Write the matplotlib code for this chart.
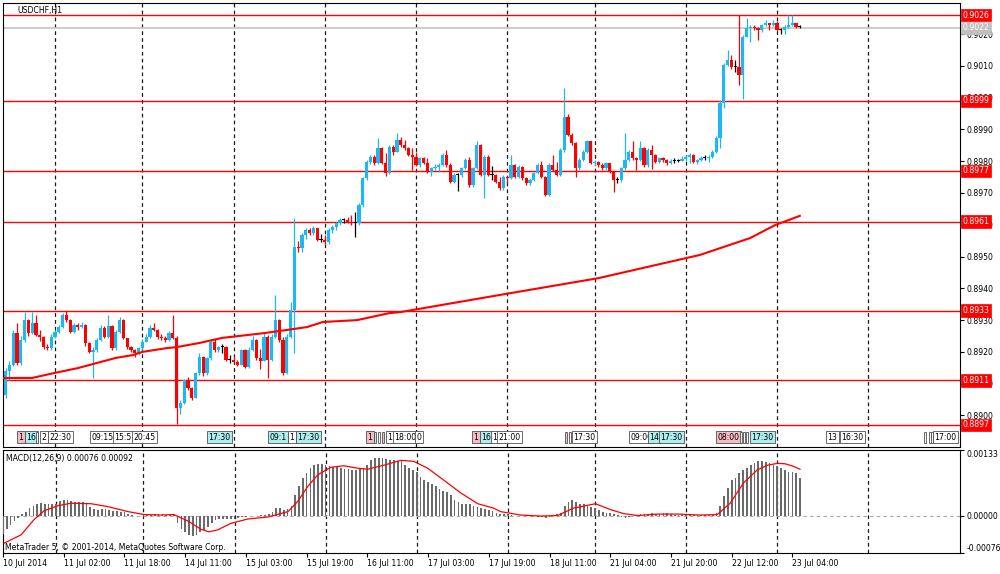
import numpy as np
import matplotlib
matplotlib.use("agg")
import matplotlib.pyplot as plt
from matplotlib.patches import Rectangle

# prices are kept in pips above BASE
BASE = 0.8900
PIP = 0.0001

symbol = 'USDCHF,H1'
first_open = 10.0
closes = [6.5, 14, 16, 26, 16.5, 23.7, 30, 25.8, 29, 25.3,
          24.8, 21.6, 21.1, 24.8, 26.4, 27.9, 31.6, 30, 26.4, 28.4,
          27.9, 28.4, 22.7, 20.1, 20.6, 23.7, 27.4, 24.8, 28, 21.1,
          26.4, 30, 24.3, 21.6, 20.6, 19.5, 21.1, 23.2, 24.8, 27.4,
          26.9, 24.8, 24.3, 23.7, 25.8, 24.3, 2.2, 3.8, 11, 8.5,
          5.4, 13.2, 18.5, 13.2, 18, 23.2, 20.6, 21.6, 21.6, 17.5,
          17.5, 16.8, 16, 20.6, 15.4, 20.6, 23.7, 18, 17.2, 24.8,
          17.5, 24.8, 30, 23.7, 13.2, 24.8, 33.2, 53.1, 52.6, 56.8,
          58.4, 57.3, 58.9, 55.2, 55.2, 54.5, 58.4, 59.4, 60.4, 61.5,
          61.5, 61, 60.5, 60.5, 66.2, 74.6, 79.9, 81.4, 79.3, 84,
          79.3, 76.2, 84.6, 83, 86.7, 85.1, 84, 81.9, 81.2, 78.8,
          80.9, 79.3, 76.7, 77.8, 78.3, 78.8, 81.9, 78.8, 73.6, 75.7,
          75.7, 77.8, 80.4, 72.5, 77.8, 85.1, 75.7, 81.4, 75.7, 75.7,
          73.5, 71.5, 75.1, 74.6, 78.8, 75.1, 78.3, 74.6, 73, 74.1,
          76.2, 78.8, 75.1, 69.4, 78.8, 77.2, 75.7, 83.5, 94, 88.2,
          85.6, 77.8, 80.4, 83, 86.2, 79.3, 79.8, 78.8, 77.8, 79.3,
          76.7, 74.1, 74.1, 77.8, 80.4, 83, 80.9, 80.4, 84, 78.8,
          83.5, 81.9, 79.8, 80.9, 80.4, 79.3, 80.2, 80.2, 80.2, 80.6,
          81.4, 82, 79.8, 80.3, 81, 81, 81.4, 83, 87.2, 98.2,
          110.3, 111.9, 109.7, 109.7, 107.1, 119.2, 121.8, 122.2, 121.8, 121.3,
          122.9, 123.4, 122.9, 123.4, 121.3, 121.3, 122.3, 122.9, 123.4, 122.2,
          122.2]
highs = [12, 15, 17, 27, 29, 25, 32.6, 30.5, 32.6, 31.5,
         27, 25, 22.5, 25.5, 27, 28.5, 32.1, 33, 30.5, 29,
         29, 29.5, 28.8, 23, 21.5, 24.5, 28.5, 28, 31.6, 28.5,
         27, 31, 30.5, 24.5, 22, 21, 21.5, 24, 25.5, 28.5,
         29, 27.2, 25.5, 25, 26.5, 31.6, 25, 5, 11.6, 12,
         8.8, 13.8, 19.5, 18.8, 18.5, 24, 24.2, 22, 22.5, 21.8,
         19, 18.8, 17.5, 21, 21, 21.5, 25, 24, 20.8, 26,
         25.2, 25.5, 38, 30.5, 24.8, 25.5, 35.8, 62.1, 54.8, 57.5,
         59, 59, 59.5, 59, 57, 56.8, 59, 60, 61, 62,
         62.2, 62.5, 63, 64, 66.8, 75, 80.5, 82, 82, 87.2,
         84.5, 82.5, 85, 85, 88.8, 87.7, 86.7, 84.6, 84, 83,
         81.4, 81.4, 80.9, 78.3, 79, 79.3, 82.5, 83.5, 79.3, 76.2,
         76.2, 78.3, 81, 81.4, 78.3, 86.2, 85.5, 82, 81.8, 78.5,
         76, 75.1, 75.6, 75.5, 81.9, 79.2, 78.8, 78.5, 75, 74.6,
         76.7, 79.3, 80, 75.5, 79.3, 81.9, 79.8, 84, 103, 95,
         89, 86, 81, 83.5, 86.8, 86.5, 80.3, 80.2, 79.3, 79.8,
         79.5, 77, 75, 78.3, 88.8, 83.5, 86.2, 81.4, 86.2, 84.5,
         84, 85.1, 82.3, 81.4, 81.4, 80.8, 80.7, 81, 80.8, 81.5,
         81.9, 82.5, 82.3, 80.8, 81.6, 81.8, 81.9, 83.5, 87.8, 99.3,
         110.8, 115, 113.4, 112, 126, 119.7, 125, 122.8, 123, 122.3,
         123.3, 124.4, 123.6, 124.4, 124, 122, 122.8, 126, 126, 123.6,
         122.8]
lows = [5, 5.5, 11, 15.5, 16, 16, 23, 25, 25.5, 25,
        23.5, 21, 20.5, 20.5, 24.5, 26, 27.5, 29.5, 26, 26,
        27, 27.5, 22, 19.5, 11.7, 20, 23.5, 24.3, 24.5, 20.5,
        20.5, 26, 24, 21, 20, 18.5, 19, 20.5, 23, 24.5,
        26.5, 24.2, 23.8, 23, 23.5, 24, -2.7, 0.5, 3.5, 8,
        5, 5.5, 12.8, 12.5, 12.8, 17.5, 20, 20, 19.5, 17,
        16.5, 16.5, 15.5, 15.8, 14.8, 15, 20.3, 17.5, 14.5, 17,
        11.7, 17, 24.5, 23.2, 12.7, 13, 24.5, 19.5, 51.5, 51.5,
        55.5, 56.8, 56.8, 54.8, 54.5, 54, 54, 57.5, 58.5, 59.8,
        60.5, 60.5, 60, 56, 60, 65.5, 74, 79, 78.8, 79,
        79, 75.5, 76, 82, 82.8, 84.5, 83.5, 81.5, 77.2, 78.5,
        78.3, 79, 76.2, 75.5, 77.2, 76.5, 78.5, 78.3, 73, 73,
        70.5, 75.1, 77.5, 72, 72, 77.5, 75.2, 68.3, 75.2, 74,
        73, 71, 71, 73, 74.3, 74.6, 74.8, 74.2, 72.5, 72.6,
        73.8, 76, 74.8, 69, 69.2, 76.8, 75.2, 75.2, 83, 87.8,
        85.1, 75.1, 77.3, 80, 82.5, 79, 78.5, 78.3, 77.3, 77.3,
        76.2, 70.4, 73, 73.6, 77.3, 80, 80.4, 77.2, 80, 78.3,
        78.3, 77.6, 79.3, 79.3, 79.8, 78.8, 79, 79.5, 79.6, 80,
        80.2, 79.3, 79.3, 79.2, 80, 80.3, 79.9, 81, 82.6, 84,
        96.6, 110, 109, 108, 104, 99.5, 119, 117.6, 121.3, 118,
        120.6, 122.4, 121.3, 122.4, 121, 120, 120, 121.8, 122.4, 122,
        121.8]

# moving average read at a few bars (pips above BASE)
ma_bars = [0, 8, 14, 20, 25, 30, 34.5, 37, 43.5, 46, 52, 58, 69, 75, 80.3,
           84.5, 93.5, 102, 104.8, 131, 157, 183.7, 196.9, 203.5, 210]
ma_pips = [11.8, 11.8, 13.4, 14.9, 16.5, 18.1, 19.0, 20.0, 21.2, 21.5, 22.8, 24.4, 25.9, 26.9, 27.8,
           29.4, 30.0, 32.2, 32.5, 37.9, 43.2, 50.5, 55.8, 59.9, 62.8]

# MACD main histogram, one value per bar, in 1e-5
macd_main = [-38, -28, -19, -11, -4, 3, 8, 15, 19, 23,
             25, 24, 24, 23, 24, 29, 32, 31, 29, 27,
             27, 27, 24, 18, 14, 12, 13, 13, 11, 10,
             10, 8, 7, 4, 2, 0, -1, -1, 1, 2,
             4, 3, 3, 2, 4, 2, -15, -28, -34, -40,
             -41, -39, -34, -29, -24, -15, -10, -8, -7, -6,
             -6, -7, -4, -3, -2, -1, -1, 0, 1, 2,
             4, 7, 15, 15, 12, 14, 20, 42, 59, 76,
             86, 96, 102, 105, 105, 102, 101, 98, 98, 96,
             94, 94, 93, 93, 94, 96, 102, 112, 116, 117,
             117, 115, 113, 112, 111, 110, 102, 96, 92, 89,
             79, 72, 68, 63, 59, 53, 50, 47, 42, 32,
             27, 24, 24, 23, 20, 17, 15, 13, 11, 10,
             6, 3, 3, 3, 2, 0, -1, -1, -1, -1,
             -1, -2, -3, -5, -2, 0, 3, 6, 19, 27,
             31, 27, 24, 23, 20, 18, 15, 12, 8, 6,
             5, 4, 2, -3, -5, -2, 0, 2, 4, 4,
             4, 6, 4, 4, 5, 6, 4, 2, 2, 1,
             1, 1, 1, 1, 1, 2, 2, 2, 6, 19,
             39, 55, 72, 76, 86, 92, 96, 102, 107, 110,
             110, 109, 106, 102, 101, 96, 93, 89, 89, 86,
             76]
# signal line read at a few bars, in 1e-5
signal_bars = [0.3, 4.8, 8.2, 10.9, 14.5, 17.9, 23.2, 27.7, 32.9, 37.2,
               41.6, 45, 48.7, 52.2, 54.3, 56.6, 60, 64.5, 69.8, 75.1,
               77.7, 80.3, 83, 86.4, 89.8, 93.5, 96.1, 100.3, 104.8, 108.2,
               111.9, 116.1, 120.6, 125.1, 129.3, 131.1, 136.4, 141.6, 146.1, 150.3,
               156.1, 160.1, 163.5, 167.2, 172.4, 177.7, 183.7, 188.2, 191.6, 195.1,
               198.8, 201.4, 204.1, 206.1, 208.2, 210]
signal_vals = [-56, -39, -8, 10, 20, 25, 24, 18, 8, 2,
               1, 2, -11, -28, -33, -29, -16, -7, -3, 8,
               29, 59, 83, 98, 101, 96, 94, 102, 112, 110,
               96, 72, 46, 24, 15, 8, 1, -1, 0, 15,
               24, 12, 4, 0, 3, 3, 1, 2, 25, 66,
               93, 102, 106, 105, 100, 94]

levels = [0.9026, 0.8999, 0.8977, 0.8961, 0.8933, 0.8911, 0.8897]
bid = 0.9022

day_bars = [14, 37, 61, 85, 109, 133, 156, 180, 204, 228]
date_bars = list(range(0, 209, 16))
date_labels = ['10 Jul 2014', '11 Jul 02:00', '11 Jul 18:00', '14 Jul 11:00', '15 Jul 03:00',
               '15 Jul 19:00', '16 Jul 11:00', '17 Jul 03:00', '17 Jul 19:00', '18 Jul 11:00',
               '21 Jul 04:00', '21 Jul 20:00', '22 Jul 12:00', '23 Jul 04:00']

# calendar events strip
event_bars = [4.0, 6.1, 9.0, 10.05, 12.2, 23.2, 29.3, 34.3, 54.0, 70.0,
              75.3, 77.4, 95.8, 98.0, 99.0, 100.0, 101.1, 103.0, 108.7, 123.7,
              125.8, 128.7, 130.3, 148.2, 149.3, 150.0, 165.0, 170.0, 172.9, 187.9,
              194.3, 195.0, 195.8, 196.9, 216.9, 220.6, 242.7, 244.0, 244.5, 245.0]
event_texts = ['1', '16', '', '2', '22:30', '09:15', '15:5', '20:45', '17:30', '09:1',
               '1', '17:30', '1', '', '', '', '1', '18:00', '0', '1',
               '16', '1', '21:00', '', '', '17:30', '09:00', '14', '17:30', '08:00',
               '', '', '', '17:30', '13', '16:30', '', '', '', '17:00']
event_kinds = ['p', 'c', 'w', 'w', 'w', 'w', 'w', 'w', 'c', 'c',
               'w', 'c', 'p', 'c', 'w', 'p', 'w', 'w', 'w', 'p',
               'c', 'w', 'w', 'p', 'w', 'w', 'w', 'c', 'c', 'p',
               'w', 'w', 'w', 'c', 'w', 'w', 'w', 'w', 'w', 'w']

BLUE = '#1cb8f2'
RED = '#ff0000'
KIND_COLORS = {'p': '#f6bcc4', 'c': '#aeeeee', 'w': '#ffffff'}
FONT = 'DejaVu Sans'
FS = 5.6

W, H = 1000, 574


def fx(px):
    return px / W


def fy(py):
    return 1 - py / H


def p(pips):
    return BASE + np.asarray(pips, dtype=float) * PIP


plt.rcParams['font.family'] = FONT
fig = plt.figure(figsize=(W / 100, H / 100), dpi=100)
fig.patch.set_facecolor('white')

ax = fig.add_axes([fx(3), fy(447), fx(957), 444 / H])
ax2 = fig.add_axes([fx(3), fy(553), fx(957), 103 / H])

x0, x1 = (3 - 1.8) / 3.8, (960 - 1.8) / 3.8
for a in (ax, ax2):
    a.set_xlim(x0, x1)
    for s in a.spines.values():
        s.set_color('black')
        s.set_linewidth(0.8)
    for b in day_bars:
        a.axvline(b, color='#1a1a1a', lw=0.9, ls=(0, (3, 2.5)), zorder=1)

# ---- price panel
c = np.array(closes, dtype=float)
o = np.concatenate([[first_open], c[:-1]])
hi = np.array(highs, dtype=float)
lo = np.array(lows, dtype=float)
x = np.arange(len(c))
cols = np.where(c > o, BLUE, np.where(c < o, RED, 'black'))

ax.set_ylim(p(-9.93), p(129.78))
for lv in levels:
    ax.axhline(lv, color=RED, lw=1.0, zorder=2)
ax.axhline(bid, color='#c8c8c8', lw=1.3, zorder=1.5)

ax.vlines(x, p(lo), p(hi), colors=cols, lw=0.9, zorder=3)
body_lo = np.minimum(o, c)
body_h = np.maximum(np.abs(c - o), 0.3)
ax.bar(x, body_h * PIP, bottom=p(body_lo), width=0.8, color=cols, lw=0, zorder=4)

ax.plot(ma_bars, p(ma_pips), color=RED, lw=1.5, zorder=5)

ax.set_xticks([])
ax.yaxis.tick_right()
yt = np.round(np.arange(0.8900, 0.90201, 0.0010), 4)
ax.set_yticks(yt)
ax.set_yticklabels(['%.4f' % v for v in yt])
ax.tick_params(axis='y', length=3, pad=1.5, labelsize=FS, colors='black')

for lv in levels:
    ax.text(1.0025, lv, '%.4f' % lv, transform=ax.get_yaxis_transform(), color='white',
            fontsize=FS, va='center', ha='left', clip_on=False, zorder=10,
            bbox=dict(boxstyle='square,pad=0.22', fc=RED, ec=RED, lw=0.5))
ax.text(1.0025, bid, '%.4f' % bid, transform=ax.get_yaxis_transform(), color='white',
        fontsize=FS, va='center', ha='left', clip_on=False, zorder=9,
        bbox=dict(boxstyle='square,pad=0.22', fc='#c0c0c0', ec='#c0c0c0', lw=0.5))

# event strip
ev_y = p(-6.9)
for b, t, k in zip(event_bars, event_texts, event_kinds):
    if t:
        ax.text(b + 0.35, ev_y, t, fontsize=FS, va='center', ha='left', zorder=6,
                bbox=dict(boxstyle='square,pad=0.2', fc=KIND_COLORS[k], ec='#505050', lw=0.6))
    else:
        ax.add_patch(Rectangle((b, p(-8.6)), 0.55, 3.4 * PIP, fc=KIND_COLORS[k],
                               ec='#505050', lw=0.6, zorder=6))

# ---- MACD panel
m = np.array(macd_main, dtype=float) * 1e-5
ax2.set_ylim(-0.00076, 0.00133)
ax2.axhline(0, color='#a8a8a8', lw=0.8, ls=(0, (3, 3)), zorder=1)
ax2.bar(np.arange(len(m)), m, width=0.45, color='#6a6a6a', lw=0, zorder=3)
ax2.plot(signal_bars, np.array(signal_vals) * 1e-5, color=RED, lw=0.9, zorder=4)

ax2.yaxis.tick_right()
ax2.set_yticks([0.00133, 0.0, -0.00076])
ax2.set_yticklabels(['0.00133', '0.00000', '-0.00076'])
ax2.tick_params(axis='y', length=3, pad=1.5, labelsize=FS)
tl = ax2.get_yticklabels()
tl[0].set_va('top')
tl[2].set_va('bottom')

ax2.set_xticks(date_bars)
ax2.set_xticklabels(date_labels, ha='left')
ax2.tick_params(axis='x', length=3, pad=1.5, labelsize=FS)

# ---- captions
fig.text(fx(17), fy(10), symbol, fontsize=FS, va='center', ha='left')
fig.text(fx(6), fy(458), 'MACD(12,26,9) 0.00076 0.00092', fontsize=FS, va='center', ha='left')
fig.text(fx(5), fy(547), 'MetaTrader 5, \u00a9 2001-2014, MetaQuotes Software Corp.',
         fontsize=FS, va='center', ha='left')

fig.savefig('out.png', dpi=100)
